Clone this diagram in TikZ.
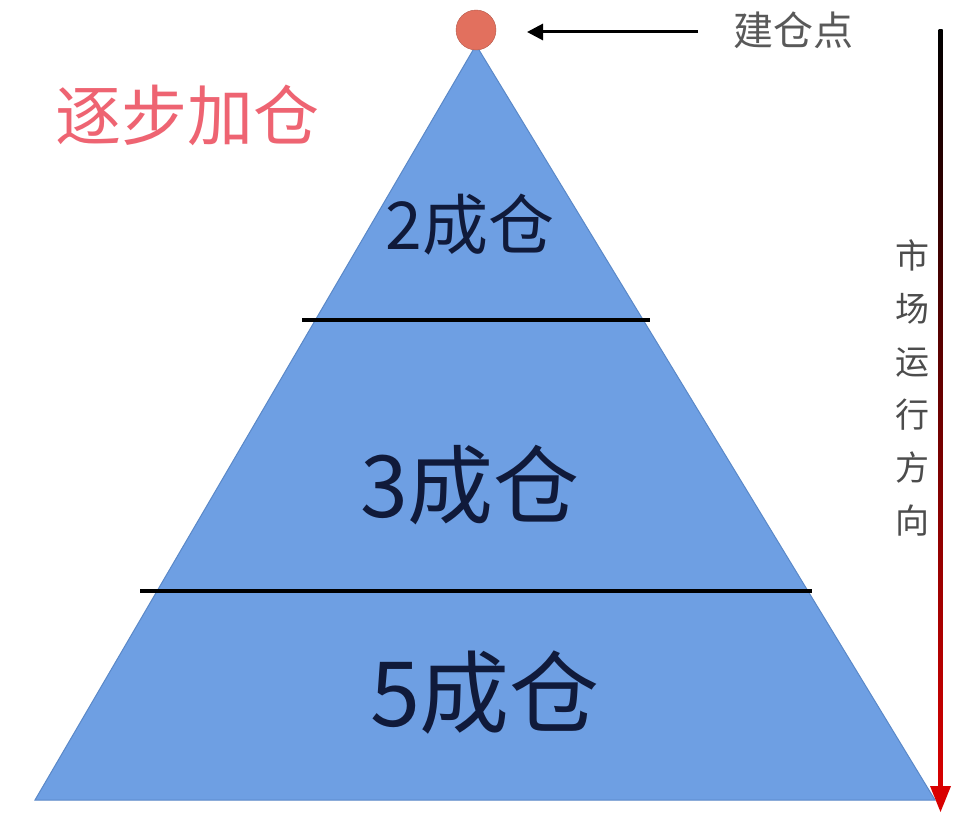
\documentclass[tikz,border=0pt]{standalone}
\usepackage{fontspec}
\newfontfamily\cjk{Noto Sans CJK SC}
\usetikzlibrary{arrows.meta}
\definecolor{pyr}{HTML}{6E9FE3}
\definecolor{pyredge}{HTML}{5A88C8}
\definecolor{dot}{HTML}{E2705E}
\definecolor{title}{HTML}{EE6472}
\definecolor{navy}{HTML}{101A3A}
\tikzset{lbl/.style={font=\cjk, text=navy, inner sep=0pt}, sep/.style={line width=3.5pt, black}}
\begin{document}
\begin{tikzpicture}[x=1pt,y=-1pt]
\useasboundingbox[fill=white] (0,0) rectangle (976,816);
\coordinate (apex) at (476,45);
\coordinate (bl) at (35,800);
\coordinate (br) at (935,800);
\fill[pyr, draw=pyredge, line width=1pt] (apex) -- (br) -- (bl) -- cycle;
\coordinate (l1a) at (302,320); \coordinate (l1b) at (650,320);
\coordinate (l2a) at (140,591); \coordinate (l2b) at (812,591);
\draw[sep] (l1a) -- (l1b);
\draw[sep] (l2a) -- (l2b);
\node[circle, fill=dot, draw=dot!80!black, minimum size=40pt, inner sep=0pt] (dotn) at (476,30) {};
\coordinate (arrs) at (698,32);
\coordinate (arre) at (527,32);
\draw[line width=3pt, -{Triangle[length=16pt,width=16pt]}] (arrs) -- (arre);
\node[font=\cjk\fontsize{40}{40}\selectfont, text=black!65, inner sep=0pt] (jcd) at (793,30) {建仓点};
\node[font=\cjk\fontsize{66}{66}\selectfont, text=title, inner sep=0pt] (ttl) at (187,115) {逐步加仓};
\node[lbl, font=\cjk\fontsize{66}{66}\selectfont] (n2) at (470,225) {2成仓};
\node[lbl, font=\cjk\fontsize{86}{86}\selectfont] (n3) at (470,485) {3成仓};
\node[lbl, font=\cjk\fontsize{90}{90}\selectfont] (n5) at (485,693) {5成仓};
\shade[top color=black, bottom color=red!85!black] (938.5,30) rectangle (942.5,790);
\coordinate (tipb) at (940.5,812);
\fill[red!85!black] (930,786) -- (951,786) -- (tipb) -- cycle;
\node[font=\cjk\fontsize{34}{53}\selectfont, text=black!70, align=center, inner sep=0pt] (vt) at (912,388) {市\\场\\运\\行\\方\\向};
\end{tikzpicture}
\end{document}
